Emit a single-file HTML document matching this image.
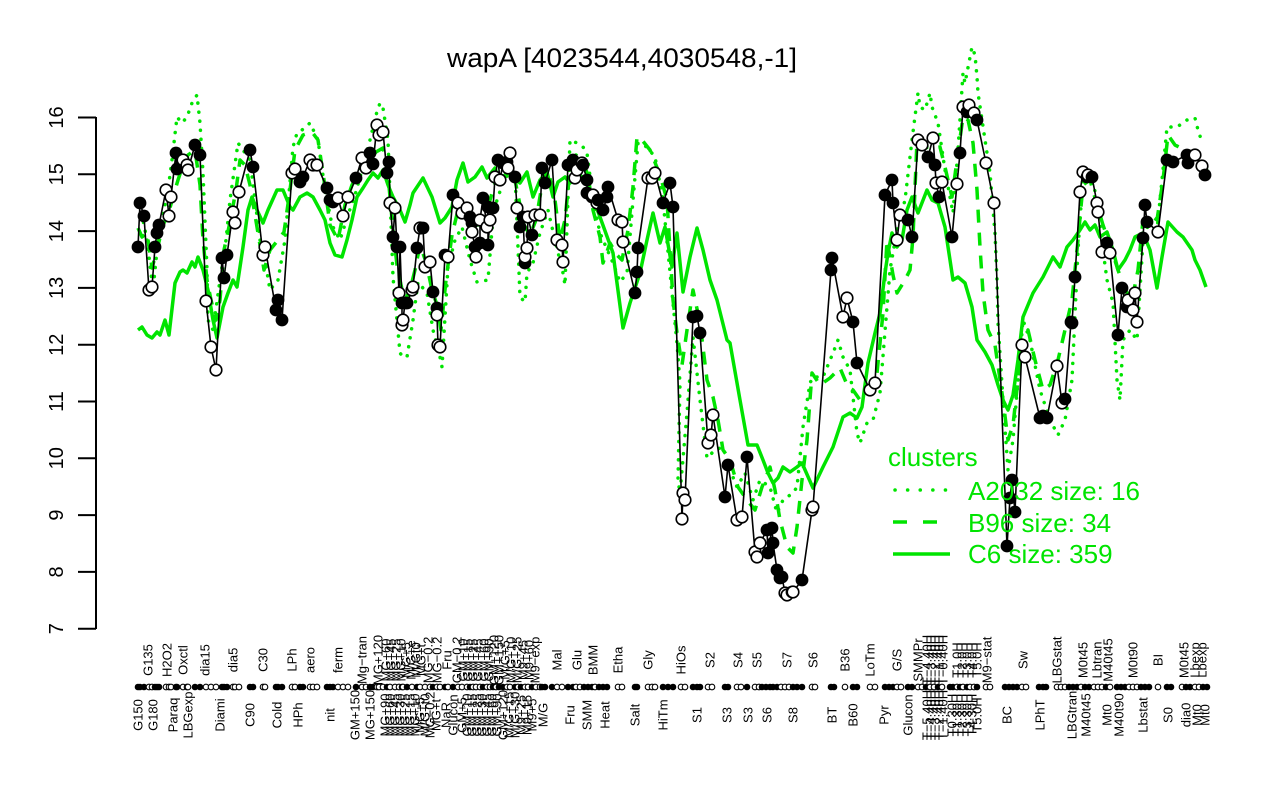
<!DOCTYPE html>
<html><head><meta charset="utf-8"><style>
html,body{margin:0;padding:0;background:#fff;}
svg{display:block;font-family:"Liberation Sans",Arial,sans-serif;}
.xl text{font-size:13px;}
</style></head><body>
<svg width="1280" height="800" viewBox="0 0 1280 800" xmlns="http://www.w3.org/2000/svg">
<defs>
<circle id="F" r="6.4" fill="#000"/>
<circle id="O" r="5.8" fill="#fff" stroke="#000" stroke-width="1.6"/>
<circle id="f" r="3.3" fill="#000"/>
<circle id="o" r="2.8" fill="#fff" stroke="#000" stroke-width="1.1"/>
</defs>
<rect width="1280" height="800" fill="#fff"/>
<text x="447" y="67" font-size="27" textLength="350" lengthAdjust="spacingAndGlyphs">wapA [4023544,4030548,-1]</text>
<line x1="96" y1="117" x2="96" y2="629" stroke="#000" stroke-width="2"/>
<g stroke="#000" stroke-width="2">
<line x1="78" y1="117.5" x2="96" y2="117.5"/><line x1="78" y1="174.3" x2="96" y2="174.3"/><line x1="78" y1="231.1" x2="96" y2="231.1"/><line x1="78" y1="287.9" x2="96" y2="287.9"/><line x1="78" y1="344.7" x2="96" y2="344.7"/><line x1="78" y1="401.5" x2="96" y2="401.5"/><line x1="78" y1="458.3" x2="96" y2="458.3"/><line x1="78" y1="515.1" x2="96" y2="515.1"/><line x1="78" y1="571.9" x2="96" y2="571.9"/><line x1="78" y1="628.7" x2="96" y2="628.7"/>
</g>
<g font-size="20" text-anchor="middle">
<text transform="translate(63,117.5) rotate(-90)">16</text>
<text transform="translate(63,174.3) rotate(-90)">15</text>
<text transform="translate(63,231.1) rotate(-90)">14</text>
<text transform="translate(63,287.9) rotate(-90)">13</text>
<text transform="translate(63,344.7) rotate(-90)">12</text>
<text transform="translate(63,401.5) rotate(-90)">11</text>
<text transform="translate(63,458.3) rotate(-90)">10</text>
<text transform="translate(63,515.1) rotate(-90)">9</text>
<text transform="translate(63,571.9) rotate(-90)">8</text>
<text transform="translate(63,628.7) rotate(-90)">7</text>
</g>

<g fill="none" stroke="#00e400" stroke-width="3.5" stroke-linejoin="round">
<polyline points="138,330 142,327 147,335 152,338 157,332 160,335 165,320 169,335 175,283 180,272 183,270 187,273 192,262 195,267 198,257 203,270 208,290 213,320 217,338 223,307 228,293 233,280 237,287 243,247 248,210 252,197 257,210 263,223 268,210 277,190 283,190 290,207 293,210 300,197 307,193 313,197 320,210 325,220 330,243 335,255 342,257 347,240 352,220 357,197 363,188 368,180 373,173 378,178 383,170 388,185 393,197 400,210 405,222 410,205 413,193 423,178 432,197 440,223 445,218 452,207 457,180 463,163 468,182 475,177 482,167 487,178 495,168 500,183 507,172 513,177 520,183 527,172 533,197 540,180 547,172 553,197 558,182 565,177 570,183 580,175 587,182 600,217 613,253 623,328 630,303 640,273 647,240 653,213 660,243 665,227 672,267 677,233 683,292 690,257 697,228 703,250 710,280 717,300 727,340 730,343 740,400 748,445 757,445 763,460 768,473 773,483 778,478 783,467 790,472 797,467 802,463 813,488 823,467 833,447 843,417 850,413 857,418 862,407 868,363 875,333 880,313 885,273 888,253 892,233 897,247 902,240 907,210 912,197 918,213 927,190 932,200 938,203 945,227 950,260 953,280 958,277 965,283 972,307 977,340 985,352 992,365 998,385 1003,400 1008,410 1013,395 1018,360 1023,317 1033,293 1043,277 1053,257 1060,267 1067,247 1073,240 1080,230 1085,222 1090,230 1095,225 1100,237 1107,232 1113,250 1118,270 1125,260 1130,250 1135,237 1143,233 1150,250 1157,288 1162,257 1168,222 1177,232 1183,237 1192,250 1195,260 1200,270 1206,287"/>
<polyline stroke-dasharray="13 10" points="138,228 142,237 147,233 152,268 157,250 163,225 168,215 173,197 178,180 183,165 188,155 195,150 200,185 203,240 207,280 211,300 216,320 220,300 224,250 230,222 236,190 240,160 245,165 250,185 255,215 260,245 264,270 270,250 278,240 284,232 290,190 295,150 303,135 312,132 318,140 324,180 330,225 338,240 345,205 352,185 360,170 368,162 376,152 383,148 388,175 393,230 397,265 401,285 405,300 410,290 415,270 420,245 426,262 432,290 437,305 441,330 446,280 452,235 458,210 465,205 472,215 478,225 484,210 490,200 496,180 502,165 508,160 514,175 518,195 524,225 530,235 536,220 542,185 548,170 555,200 560,240 565,220 570,170 576,155 582,160 588,175 593,210 600,237 603,263 610,243 617,255 622,260 628,230 633,187 637,137 642,140 650,150 660,175 667,200 673,300 677,333 682,365 687,330 693,290 700,323 707,380 713,397 718,420 723,450 730,460 738,487 747,500 755,510 762,487 770,467 775,490 780,520 787,547 793,553 797,527 802,480 807,440 812,373 820,385 830,378 840,368 848,387 853,390 860,400 867,390 877,373 883,313 887,240 893,275 897,293 905,280 910,270 913,237 917,140 925,147 932,148 940,147 945,167 948,180 952,197 957,160 963,117 968,120 973,143 977,190 980,247 983,293 988,330 995,345 1003,400 1008,440 1013,425 1018,380 1023,340 1028,330 1035,360 1043,390 1050,385 1058,360 1065,330 1072,300 1078,240 1083,185 1090,180 1097,205 1103,225 1110,245 1118,270 1125,290 1132,300 1138,270 1143,220 1150,215 1157,220 1163,180 1168,135 1175,145 1185,150 1193,155 1200,160 1207,170"/>
<polyline stroke-dasharray="0.1 9" stroke-linecap="round" points="138,205 142,215 147,240 150,265 153,290 157,250 163,215 168,190 172,160 177,117 182,123 187,117 192,103 197,95 200,123 203,173 207,270 208,320 213,330 220,280 226,240 230,200 238,143 243,150 250,160 255,200 260,240 265,260 270,290 278,280 285,240 293,147 297,133 302,130 310,123 318,140 325,190 332,225 340,240 348,215 355,195 362,170 370,140 376,115 380,103 383,108 388,140 393,277 400,353 403,357 407,357 413,320 418,282 427,293 433,330 440,357 442,367 448,267 455,240 462,227 470,260 477,282 488,280 493,217 497,200 505,177 515,173 520,297 525,302 527,273 533,263 540,233 548,210 555,240 563,273 565,285 570,140 577,143 583,147 587,153 593,200 600,233 613,263 620,282 627,273 633,200 638,143 647,147 655,157 663,200 673,303 677,343 680,383 678,480 680,493 687,413 693,337 700,400 707,458 715,450 723,447 730,470 737,487 745,473 753,500 760,480 770,487 777,513 783,500 793,493 797,487 803,427 810,383 813,377 823,377 833,353 838,340 843,357 850,370 857,433 860,443 867,423 873,420 880,393 890,270 897,230 905,200 912,140 918,93 920,107 925,110 930,93 932,107 938,123 945,170 953,213 958,150 963,73 965,83 972,47 975,55 977,77 978,93 985,140 990,173 995,233 997,280 998,323 1003,400 1008,470 1013,440 1018,380 1023,320 1030,340 1040,390 1050,420 1058,435 1065,420 1072,380 1078,250 1083,175 1090,170 1097,200 1103,250 1107,280 1113,303 1117,380 1120,400 1123,340 1130,330 1137,340 1143,240 1150,220 1157,230 1163,170 1167,127 1177,127 1187,120 1195,118 1198,130 1202,142"/>
</g>

<polyline fill="none" stroke="#000" stroke-width="1.6" stroke-linejoin="round" points="138,247 140,203 144,216 149,290 152,287 155,247 157,233 159,225 166,190 169,216 171,197 176,153 177,169 183,160 187,165 188,170 195,145 200,155 206,301 211,347 216,370 222,258 224,278 227,255 233,212 235,223 239,192 250,150 253,167 263,255 265,247 276,310 278,300 282,320 292,173 295,169 300,182 303,177 310,160 313,165 317,165 327,188 330,200 333,202 338,198 343,216 348,197 356,178 362,158 366,168 370,153 373,164 377,125 379,135 383,132 387,173 389,162 390,203 393,237 395,208 397,247 399,293 400,247 402,303 402,325 403,320 405,303 407,303 412,290 413,287 417,248 420,228 423,228 425,267 430,262 433,292 437,308 437,315 438,345 440,347 445,255 448,257 453,195 458,203 462,213 467,208 470,217 472,223 472,232 475,247 476,257 480,243 480,220 483,198 487,227 488,207 488,245 490,220 493,208 495,177 498,160 500,180 503,163 507,162 508,168 510,153 515,177 517,208 520,227 523,217 525,263 525,257 527,248 528,217 532,235 535,215 540,215 542,168 545,183 552,160 557,240 562,245 563,262 568,165 573,160 575,178 577,170 582,163 583,165 587,180 587,193 592,197 593,195 597,203 598,200 603,210 607,197 608,187 618,220 622,222 623,242 635,293 637,272 638,248 648,178 652,178 655,173 663,203 670,183 673,207 682,519 683,493 685,500 693,317 697,316 700,333 708,443 711,435 713,415 725,497 728,465 737,520 742,517 747,457 755,552 757,557 760,543 767,530 768,553 772,528 773,543 777,570 780,578 782,577 785,593 787,595 792,592 793,592 802,580 812,510 813,507 831,270 832,258 843,317 847,298 853,322 857,363 870,390 875,383 885,195 892,180 893,203 897,240 900,215 908,220 912,237 918,140 922,145 928,157 933,138 935,165 936,183 939,197 942,182 952,237 957,184 960,153 963,107 967,112 969,105 974,113 977,120 986,163 994,203 1007,546 1010,498 1012,480 1015,512 1022,345 1025,357 1040,418 1043,416 1047,418 1057,366 1062,403 1065,399 1071,322 1072,323 1075,277 1080,192 1083,172 1087,177 1088,175 1092,177 1097,203 1098,212 1102,252 1107,243 1110,253 1118,335 1122,288 1127,307 1128,300 1133,310 1135,293 1137,322 1143,238 1145,205 1147,222 1158,232 1167,160 1173,162 1187,155 1188,163 1195,155 1202,166 1205,175"/>

<g>
<use href="#F" x="138" y="247"/><use href="#F" x="140" y="203"/><use href="#F" x="144" y="216"/><use href="#O" x="149" y="290"/><use href="#O" x="152" y="287"/><use href="#F" x="155" y="247"/><use href="#F" x="157" y="233"/><use href="#F" x="159" y="225"/><use href="#O" x="166" y="190"/><use href="#O" x="169" y="216"/><use href="#O" x="171" y="197"/><use href="#F" x="176" y="153"/><use href="#F" x="177" y="169"/><use href="#O" x="183" y="160"/><use href="#O" x="187" y="165"/><use href="#O" x="188" y="170"/><use href="#F" x="195" y="145"/><use href="#F" x="200" y="155"/><use href="#O" x="206" y="301"/><use href="#O" x="211" y="347"/><use href="#O" x="216" y="370"/><use href="#F" x="222" y="258"/><use href="#F" x="224" y="278"/><use href="#F" x="227" y="255"/><use href="#O" x="233" y="212"/><use href="#O" x="235" y="223"/><use href="#O" x="239" y="192"/><use href="#F" x="250" y="150"/><use href="#F" x="253" y="167"/><use href="#O" x="263" y="255"/><use href="#O" x="265" y="247"/><use href="#F" x="276" y="310"/><use href="#F" x="278" y="300"/><use href="#F" x="282" y="320"/><use href="#O" x="292" y="173"/><use href="#O" x="295" y="169"/><use href="#F" x="300" y="182"/><use href="#F" x="303" y="177"/><use href="#O" x="310" y="160"/><use href="#O" x="313" y="165"/><use href="#O" x="317" y="165"/><use href="#F" x="327" y="188"/><use href="#F" x="330" y="200"/><use href="#F" x="333" y="202"/><use href="#O" x="338" y="198"/><use href="#O" x="343" y="216"/><use href="#O" x="348" y="197"/><use href="#F" x="356" y="178"/><use href="#O" x="362" y="158"/><use href="#O" x="366" y="168"/><use href="#F" x="370" y="153"/><use href="#F" x="373" y="164"/><use href="#O" x="377" y="125"/><use href="#O" x="379" y="135"/><use href="#O" x="383" y="132"/><use href="#F" x="387" y="173"/><use href="#F" x="389" y="162"/><use href="#O" x="390" y="203"/><use href="#F" x="393" y="237"/><use href="#O" x="395" y="208"/><use href="#F" x="397" y="247"/><use href="#O" x="399" y="293"/><use href="#F" x="400" y="247"/><use href="#F" x="402" y="303"/><use href="#O" x="402" y="325"/><use href="#O" x="403" y="320"/><use href="#F" x="405" y="303"/><use href="#F" x="407" y="303"/><use href="#O" x="412" y="290"/><use href="#O" x="413" y="287"/><use href="#F" x="417" y="248"/><use href="#O" x="420" y="228"/><use href="#F" x="423" y="228"/><use href="#O" x="425" y="267"/><use href="#O" x="430" y="262"/><use href="#F" x="433" y="292"/><use href="#F" x="437" y="308"/><use href="#O" x="437" y="315"/><use href="#O" x="438" y="345"/><use href="#O" x="440" y="347"/><use href="#F" x="445" y="255"/><use href="#O" x="448" y="257"/><use href="#F" x="453" y="195"/><use href="#O" x="458" y="203"/><use href="#O" x="462" y="213"/><use href="#O" x="467" y="208"/><use href="#F" x="470" y="217"/><use href="#F" x="472" y="223"/><use href="#O" x="472" y="232"/><use href="#F" x="475" y="247"/><use href="#O" x="476" y="257"/><use href="#F" x="480" y="243"/><use href="#O" x="480" y="220"/><use href="#F" x="483" y="198"/><use href="#O" x="487" y="227"/><use href="#F" x="488" y="207"/><use href="#F" x="488" y="245"/><use href="#O" x="490" y="220"/><use href="#F" x="493" y="208"/><use href="#O" x="495" y="177"/><use href="#F" x="498" y="160"/><use href="#O" x="500" y="180"/><use href="#F" x="503" y="163"/><use href="#F" x="507" y="162"/><use href="#O" x="508" y="168"/><use href="#O" x="510" y="153"/><use href="#F" x="515" y="177"/><use href="#O" x="517" y="208"/><use href="#F" x="520" y="227"/><use href="#F" x="523" y="217"/><use href="#F" x="525" y="263"/><use href="#O" x="525" y="257"/><use href="#O" x="527" y="248"/><use href="#O" x="528" y="217"/><use href="#F" x="532" y="235"/><use href="#O" x="535" y="215"/><use href="#O" x="540" y="215"/><use href="#F" x="542" y="168"/><use href="#F" x="545" y="183"/><use href="#F" x="552" y="160"/><use href="#O" x="557" y="240"/><use href="#O" x="562" y="245"/><use href="#O" x="563" y="262"/><use href="#F" x="568" y="165"/><use href="#F" x="573" y="160"/><use href="#O" x="575" y="178"/><use href="#O" x="577" y="170"/><use href="#O" x="582" y="163"/><use href="#F" x="583" y="165"/><use href="#F" x="587" y="180"/><use href="#F" x="587" y="193"/><use href="#F" x="592" y="197"/><use href="#O" x="593" y="195"/><use href="#O" x="597" y="203"/><use href="#F" x="598" y="200"/><use href="#F" x="603" y="210"/><use href="#F" x="607" y="197"/><use href="#F" x="608" y="187"/><use href="#O" x="618" y="220"/><use href="#O" x="622" y="222"/><use href="#O" x="623" y="242"/><use href="#F" x="635" y="293"/><use href="#F" x="637" y="272"/><use href="#F" x="638" y="248"/><use href="#O" x="648" y="178"/><use href="#O" x="652" y="178"/><use href="#O" x="655" y="173"/><use href="#F" x="663" y="203"/><use href="#F" x="670" y="183"/><use href="#F" x="673" y="207"/><use href="#O" x="682" y="519"/><use href="#O" x="683" y="493"/><use href="#O" x="685" y="500"/><use href="#F" x="693" y="317"/><use href="#F" x="697" y="316"/><use href="#F" x="700" y="333"/><use href="#O" x="708" y="443"/><use href="#O" x="711" y="435"/><use href="#O" x="713" y="415"/><use href="#F" x="725" y="497"/><use href="#F" x="728" y="465"/><use href="#O" x="737" y="520"/><use href="#O" x="742" y="517"/><use href="#F" x="747" y="457"/><use href="#O" x="755" y="552"/><use href="#O" x="757" y="557"/><use href="#O" x="760" y="543"/><use href="#F" x="767" y="530"/><use href="#F" x="768" y="553"/><use href="#F" x="772" y="528"/><use href="#F" x="773" y="543"/><use href="#F" x="777" y="570"/><use href="#F" x="780" y="578"/><use href="#F" x="782" y="577"/><use href="#O" x="785" y="593"/><use href="#O" x="787" y="595"/><use href="#F" x="792" y="592"/><use href="#O" x="793" y="592"/><use href="#F" x="802" y="580"/><use href="#O" x="812" y="510"/><use href="#O" x="813" y="507"/><use href="#F" x="831" y="270"/><use href="#F" x="832" y="258"/><use href="#O" x="843" y="317"/><use href="#O" x="847" y="298"/><use href="#F" x="853" y="322"/><use href="#F" x="857" y="363"/><use href="#O" x="870" y="390"/><use href="#O" x="875" y="383"/><use href="#F" x="885" y="195"/><use href="#F" x="892" y="180"/><use href="#F" x="893" y="203"/><use href="#O" x="897" y="240"/><use href="#O" x="900" y="215"/><use href="#F" x="908" y="220"/><use href="#F" x="912" y="237"/><use href="#O" x="918" y="140"/><use href="#O" x="922" y="145"/><use href="#F" x="928" y="157"/><use href="#O" x="933" y="138"/><use href="#F" x="935" y="165"/><use href="#O" x="936" y="183"/><use href="#F" x="939" y="197"/><use href="#O" x="942" y="182"/><use href="#F" x="952" y="237"/><use href="#O" x="957" y="184"/><use href="#F" x="960" y="153"/><use href="#O" x="963" y="107"/><use href="#F" x="967" y="112"/><use href="#O" x="969" y="105"/><use href="#O" x="974" y="113"/><use href="#F" x="977" y="120"/><use href="#O" x="986" y="163"/><use href="#O" x="994" y="203"/><use href="#F" x="1007" y="546"/><use href="#F" x="1010" y="498"/><use href="#F" x="1012" y="480"/><use href="#F" x="1015" y="512"/><use href="#O" x="1022" y="345"/><use href="#O" x="1025" y="357"/><use href="#F" x="1040" y="418"/><use href="#F" x="1043" y="416"/><use href="#F" x="1047" y="418"/><use href="#O" x="1057" y="366"/><use href="#O" x="1062" y="403"/><use href="#F" x="1065" y="399"/><use href="#F" x="1071" y="322"/><use href="#F" x="1072" y="323"/><use href="#F" x="1075" y="277"/><use href="#O" x="1080" y="192"/><use href="#O" x="1083" y="172"/><use href="#F" x="1087" y="177"/><use href="#O" x="1088" y="175"/><use href="#F" x="1092" y="177"/><use href="#O" x="1097" y="203"/><use href="#O" x="1098" y="212"/><use href="#O" x="1102" y="252"/><use href="#F" x="1107" y="243"/><use href="#O" x="1110" y="253"/><use href="#F" x="1118" y="335"/><use href="#F" x="1122" y="288"/><use href="#F" x="1127" y="307"/><use href="#O" x="1128" y="300"/><use href="#O" x="1133" y="310"/><use href="#O" x="1135" y="293"/><use href="#O" x="1137" y="322"/><use href="#F" x="1143" y="238"/><use href="#F" x="1145" y="205"/><use href="#F" x="1147" y="222"/><use href="#O" x="1158" y="232"/><use href="#F" x="1167" y="160"/><use href="#F" x="1173" y="162"/><use href="#F" x="1187" y="155"/><use href="#F" x="1188" y="163"/><use href="#O" x="1195" y="155"/><use href="#O" x="1202" y="166"/><use href="#F" x="1205" y="175"/>
</g>

<g transform="translate(0,687)">
<use href="#f" x="138"/><use href="#f" x="140"/><use href="#f" x="144"/><use href="#o" x="149"/><use href="#o" x="152"/><use href="#f" x="155"/><use href="#f" x="157"/><use href="#f" x="159"/><use href="#o" x="166"/><use href="#o" x="169"/><use href="#o" x="171"/><use href="#f" x="176"/><use href="#f" x="177"/><use href="#o" x="183"/><use href="#o" x="187"/><use href="#o" x="188"/><use href="#f" x="195"/><use href="#f" x="200"/><use href="#o" x="206"/><use href="#o" x="211"/><use href="#o" x="216"/><use href="#f" x="222"/><use href="#f" x="224"/><use href="#f" x="227"/><use href="#o" x="233"/><use href="#o" x="235"/><use href="#o" x="239"/><use href="#f" x="250"/><use href="#f" x="253"/><use href="#o" x="263"/><use href="#o" x="265"/><use href="#f" x="276"/><use href="#f" x="278"/><use href="#f" x="282"/><use href="#o" x="292"/><use href="#o" x="295"/><use href="#f" x="300"/><use href="#f" x="303"/><use href="#o" x="310"/><use href="#o" x="313"/><use href="#o" x="317"/><use href="#f" x="327"/><use href="#f" x="330"/><use href="#f" x="333"/><use href="#o" x="338"/><use href="#o" x="343"/><use href="#o" x="348"/><use href="#f" x="356"/><use href="#o" x="362"/><use href="#o" x="366"/><use href="#f" x="370"/><use href="#f" x="373"/><use href="#o" x="377"/><use href="#o" x="379"/><use href="#o" x="383"/><use href="#f" x="387"/><use href="#o" x="390"/><use href="#o" x="395"/><use href="#o" x="399"/><use href="#f" x="402"/><use href="#o" x="403"/><use href="#f" x="407"/><use href="#o" x="412"/><use href="#f" x="417"/><use href="#o" x="420"/><use href="#o" x="425"/><use href="#o" x="430"/><use href="#f" x="433"/><use href="#o" x="437"/><use href="#o" x="440"/><use href="#f" x="445"/><use href="#o" x="448"/><use href="#f" x="453"/><use href="#o" x="458"/><use href="#o" x="462"/><use href="#o" x="467"/><use href="#f" x="470"/><use href="#o" x="473"/><use href="#o" x="476"/><use href="#o" x="480"/><use href="#f" x="483"/><use href="#o" x="487"/><use href="#o" x="490"/><use href="#f" x="493"/><use href="#o" x="496"/><use href="#f" x="499"/><use href="#f" x="503"/><use href="#o" x="507"/><use href="#o" x="510"/><use href="#f" x="515"/><use href="#o" x="518"/><use href="#f" x="521"/><use href="#o" x="525"/><use href="#o" x="528"/><use href="#f" x="532"/><use href="#o" x="536"/><use href="#o" x="540"/><use href="#f" x="542"/><use href="#f" x="545"/><use href="#f" x="552"/><use href="#o" x="557"/><use href="#o" x="562"/><use href="#f" x="568"/><use href="#f" x="573"/><use href="#o" x="576"/><use href="#o" x="580"/><use href="#f" x="584"/><use href="#f" x="588"/><use href="#f" x="592"/><use href="#o" x="595"/><use href="#f" x="599"/><use href="#f" x="603"/><use href="#f" x="607"/><use href="#o" x="618"/><use href="#o" x="622"/><use href="#f" x="635"/><use href="#f" x="637"/><use href="#o" x="648"/><use href="#o" x="652"/><use href="#o" x="655"/><use href="#f" x="663"/><use href="#f" x="668"/><use href="#f" x="673"/><use href="#o" x="681"/><use href="#o" x="685"/><use href="#f" x="693"/><use href="#f" x="697"/><use href="#f" x="700"/><use href="#o" x="708"/><use href="#o" x="712"/><use href="#f" x="725"/><use href="#f" x="728"/><use href="#o" x="737"/><use href="#o" x="741"/><use href="#f" x="747"/><use href="#o" x="755"/><use href="#o" x="759"/><use href="#f" x="762"/><use href="#f" x="766"/><use href="#f" x="770"/><use href="#f" x="773"/><use href="#f" x="777"/><use href="#o" x="781"/><use href="#o" x="785"/><use href="#o" x="789"/><use href="#f" x="793"/><use href="#f" x="797"/><use href="#f" x="802"/><use href="#o" x="812"/><use href="#o" x="815"/><use href="#f" x="831"/><use href="#f" x="834"/><use href="#o" x="845"/><use href="#f" x="853"/><use href="#f" x="857"/><use href="#o" x="870"/><use href="#o" x="875"/><use href="#f" x="885"/><use href="#f" x="889"/><use href="#f" x="893"/><use href="#o" x="897"/><use href="#o" x="901"/><use href="#f" x="908"/><use href="#f" x="912"/><use href="#o" x="918"/><use href="#o" x="922"/><use href="#f" x="926"/><use href="#o" x="930"/><use href="#o" x="934"/><use href="#f" x="938"/><use href="#o" x="942"/><use href="#f" x="950"/><use href="#f" x="953"/><use href="#o" x="957"/><use href="#f" x="960"/><use href="#o" x="963"/><use href="#f" x="967"/><use href="#o" x="970"/><use href="#o" x="974"/><use href="#f" x="977"/><use href="#o" x="986"/><use href="#o" x="990"/><use href="#f" x="1005"/><use href="#f" x="1009"/><use href="#f" x="1013"/><use href="#f" x="1017"/><use href="#o" x="1022"/><use href="#o" x="1026"/><use href="#f" x="1039"/><use href="#f" x="1043"/><use href="#f" x="1046"/><use href="#o" x="1057"/><use href="#o" x="1061"/><use href="#o" x="1065"/><use href="#f" x="1069"/><use href="#f" x="1073"/><use href="#f" x="1077"/><use href="#o" x="1081"/><use href="#f" x="1085"/><use href="#f" x="1089"/><use href="#o" x="1094"/><use href="#o" x="1098"/><use href="#o" x="1102"/><use href="#f" x="1106"/><use href="#o" x="1110"/><use href="#f" x="1117"/><use href="#f" x="1121"/><use href="#f" x="1125"/><use href="#o" x="1129"/><use href="#o" x="1133"/><use href="#o" x="1137"/><use href="#f" x="1141"/><use href="#f" x="1145"/><use href="#f" x="1149"/><use href="#o" x="1158"/><use href="#f" x="1167"/><use href="#f" x="1171"/><use href="#o" x="1182"/><use href="#f" x="1186"/><use href="#f" x="1190"/><use href="#o" x="1195"/><use href="#o" x="1199"/><use href="#f" x="1203"/><use href="#f" x="1207"/>
</g>

<g class="xl" text-anchor="middle" dominant-baseline="central">
<g transform="translate(0,660)">
<text transform="translate(148,0) rotate(-90)">G135</text>
<text transform="translate(167,0) rotate(-90)">H2O2</text>
<text transform="translate(183,0) rotate(-90)">Oxctl</text>
<text transform="translate(205,0) rotate(-90)">dia15</text>
<text transform="translate(233,0) rotate(-90)">dia5</text>
<text transform="translate(263,0) rotate(-90)">C30</text>
<text transform="translate(292,0) rotate(-90)">LPh</text>
<text transform="translate(310,0) rotate(-90)">aero</text>
<text transform="translate(338,0) rotate(-90)">ferm</text>
<text transform="translate(362,0) rotate(-90)">Mg−tran</text>
<text transform="translate(378,0) rotate(-90)">MG+120</text>
<text transform="translate(386,0) rotate(-90)">MG+60</text>
<text transform="translate(391,0) rotate(-90)">MG+45</text>
<text transform="translate(396,0) rotate(-90)">MG+25</text>
<text transform="translate(401,0) rotate(-90)">MG+10</text>
<text transform="translate(406,0) rotate(-90)">MG+5</text>
<text transform="translate(411,0) rotate(-90)">M/G+e</text>
<text transform="translate(416,0) rotate(-90)">M/Gt0</text>
<text transform="translate(421,0) rotate(-90)">MG+t</text>
<text transform="translate(428,0) rotate(-90)">MG−0.2</text>
<text transform="translate(437,0) rotate(-90)">MG−0.2</text>
<text transform="translate(447,0) rotate(-90)">Fru</text>
<text transform="translate(457,0) rotate(-90)">GM−0.2</text>
<text transform="translate(463,0) rotate(-90)">GM+10</text>
<text transform="translate(468,0) rotate(-90)">GM+15</text>
<text transform="translate(473,0) rotate(-90)">GM+25</text>
<text transform="translate(478,0) rotate(-90)">GM+45</text>
<text transform="translate(484,0) rotate(-90)">GM+60</text>
<text transform="translate(489,0) rotate(-90)">GM+90</text>
<text transform="translate(494,0) rotate(-90)">GM+120</text>
<text transform="translate(499,0) rotate(-90)">GM+150</text>
<text transform="translate(505,0) rotate(-90)">M/G+5</text>
<text transform="translate(511,0) rotate(-90)">M/G+10</text>
<text transform="translate(517,0) rotate(-90)">M/G+25</text>
<text transform="translate(523,0) rotate(-90)">M9+45</text>
<text transform="translate(529,0) rotate(-90)">M9+60</text>
<text transform="translate(535,0) rotate(-90)">M9−exp</text>
<text transform="translate(557,0) rotate(-90)">Mal</text>
<text transform="translate(577,0) rotate(-90)">Glu</text>
<text transform="translate(593,0) rotate(-90)">BMM</text>
<text transform="translate(618,0) rotate(-90)">Etha</text>
<text transform="translate(648,0) rotate(-90)">Gly</text>
<text transform="translate(681,0) rotate(-90)">HiOs</text>
<text transform="translate(710,0) rotate(-90)">S2</text>
<text transform="translate(738,0) rotate(-90)">S4</text>
<text transform="translate(757,0) rotate(-90)">S5</text>
<text transform="translate(787,0) rotate(-90)">S7</text>
<text transform="translate(813,0) rotate(-90)">S6</text>
<text transform="translate(845,0) rotate(-90)">B36</text>
<text transform="translate(870,0) rotate(-90)">LoTm</text>
<text transform="translate(897,0) rotate(-90)">G/S</text>
<text transform="translate(918,0) rotate(-90)">SMMPr</text>
<text transform="translate(927,0) rotate(-90)">T−4.40H</text>
<text transform="translate(931,0) rotate(-90)">T−3.40H</text>
<text transform="translate(935,0) rotate(-90)">T−2.40H</text>
<text transform="translate(939,0) rotate(-90)">T−1.40H</text>
<text transform="translate(943,0) rotate(-90)">T−0.40H</text>
<text transform="translate(957,0) rotate(-90)">T1.0H</text>
<text transform="translate(962,0) rotate(-90)">T2.0H</text>
<text transform="translate(967,0) rotate(-90)">T3.0H</text>
<text transform="translate(972,0) rotate(-90)">T4.0H</text>
<text transform="translate(977,0) rotate(-90)">T5.0H</text>
<text transform="translate(987,0) rotate(-90)">M9−stat</text>
<text transform="translate(1023,0) rotate(-90)">Sw</text>
<text transform="translate(1057,0) rotate(-90)">LBGstat</text>
<text transform="translate(1083,0) rotate(-90)">M0t45</text>
<text transform="translate(1097,0) rotate(-90)">Lbtran</text>
<text transform="translate(1108,0) rotate(-90)">M40t45</text>
<text transform="translate(1133,0) rotate(-90)">M0t90</text>
<text transform="translate(1158,0) rotate(-90)">BI</text>
<text transform="translate(1184,0) rotate(-90)">M0t45</text>
<text transform="translate(1195,0) rotate(-90)">Lbexp</text>
<text transform="translate(1202,0) rotate(-90)">Lbexp</text>
</g>
<g transform="translate(0,715)">
<text transform="translate(138,0) rotate(-90)">G150</text>
<text transform="translate(153,0) rotate(-90)">G180</text>
<text transform="translate(173,0) rotate(-90)">Paraq</text>
<text transform="translate(188,0) rotate(-90)">LBGexp</text>
<text transform="translate(220,0) rotate(-90)">Diami</text>
<text transform="translate(250,0) rotate(-90)">C90</text>
<text transform="translate(277,0) rotate(-90)">Cold</text>
<text transform="translate(298,0) rotate(-90)">HPh</text>
<text transform="translate(330,0) rotate(-90)">nit</text>
<text transform="translate(355,0) rotate(-90)">GM+150</text>
<text transform="translate(370,0) rotate(-90)">MG+150</text>
<text transform="translate(385,0) rotate(-90)">MG+90</text>
<text transform="translate(390,0) rotate(-90)">MG+60</text>
<text transform="translate(395,0) rotate(-90)">MG+45</text>
<text transform="translate(400,0) rotate(-90)">MG+30</text>
<text transform="translate(405,0) rotate(-90)">MG+25</text>
<text transform="translate(410,0) rotate(-90)">MG+15</text>
<text transform="translate(415,0) rotate(-90)">MG+10</text>
<text transform="translate(420,0) rotate(-90)">MG+5</text>
<text transform="translate(425,0) rotate(-90)">M/G+t0</text>
<text transform="translate(430,0) rotate(-90)">MG−0.2</text>
<text transform="translate(436,0) rotate(-90)">MG+t</text>
<text transform="translate(446,0) rotate(-90)">NaR</text>
<text transform="translate(453,0) rotate(-90)">Glucon</text>
<text transform="translate(462,0) rotate(-90)">GM+5</text>
<text transform="translate(467,0) rotate(-90)">GM+10</text>
<text transform="translate(472,0) rotate(-90)">GM+15</text>
<text transform="translate(477,0) rotate(-90)">GM+25</text>
<text transform="translate(482,0) rotate(-90)">GM+30</text>
<text transform="translate(487,0) rotate(-90)">GM+45</text>
<text transform="translate(492,0) rotate(-90)">GM+60</text>
<text transform="translate(497,0) rotate(-90)">GM+90</text>
<text transform="translate(503,0) rotate(-90)">GM+120</text>
<text transform="translate(509,0) rotate(-90)">M/G+15</text>
<text transform="translate(515,0) rotate(-90)">M/G+30</text>
<text transform="translate(521,0) rotate(-90)">M9+25</text>
<text transform="translate(527,0) rotate(-90)">M9+15</text>
<text transform="translate(532,0) rotate(-90)">M9+5</text>
<text transform="translate(543,0) rotate(-90)">M/G</text>
<text transform="translate(570,0) rotate(-90)">Fru</text>
<text transform="translate(587,0) rotate(-90)">SMM</text>
<text transform="translate(605,0) rotate(-90)">Heat</text>
<text transform="translate(635,0) rotate(-90)">Salt</text>
<text transform="translate(663,0) rotate(-90)">HiTm</text>
<text transform="translate(697,0) rotate(-90)">S1</text>
<text transform="translate(727,0) rotate(-90)">S3</text>
<text transform="translate(748,0) rotate(-90)">S3</text>
<text transform="translate(767,0) rotate(-90)">S6</text>
<text transform="translate(793,0) rotate(-90)">S8</text>
<text transform="translate(832,0) rotate(-90)">BT</text>
<text transform="translate(853,0) rotate(-90)">B60</text>
<text transform="translate(884,0) rotate(-90)">Pyr</text>
<text transform="translate(908,0) rotate(-90)">Glucon</text>
<text transform="translate(927,0) rotate(-90)">T−5.40H</text>
<text transform="translate(931,0) rotate(-90)">T−4.40H</text>
<text transform="translate(935,0) rotate(-90)">T−3.40H</text>
<text transform="translate(939,0) rotate(-90)">T−2.40H</text>
<text transform="translate(943,0) rotate(-90)">T−1.40H</text>
<text transform="translate(952,0) rotate(-90)">T0.30H</text>
<text transform="translate(957,0) rotate(-90)">T1.30H</text>
<text transform="translate(962,0) rotate(-90)">T2.30H</text>
<text transform="translate(967,0) rotate(-90)">T3.30H</text>
<text transform="translate(972,0) rotate(-90)">T4.30H</text>
<text transform="translate(977,0) rotate(-90)">T5.0H</text>
<text transform="translate(1007,0) rotate(-90)">BC</text>
<text transform="translate(1040,0) rotate(-90)">LPhT</text>
<text transform="translate(1072,0) rotate(-90)">LBGtran</text>
<text transform="translate(1086,0) rotate(-90)">M40t45</text>
<text transform="translate(1107,0) rotate(-90)">Mt0</text>
<text transform="translate(1119,0) rotate(-90)">M40t90</text>
<text transform="translate(1143,0) rotate(-90)">Lbstat</text>
<text transform="translate(1168,0) rotate(-90)">S0</text>
<text transform="translate(1186,0) rotate(-90)">dia0</text>
<text transform="translate(1197,0) rotate(-90)">Mt0</text>
<text transform="translate(1205,0) rotate(-90)">Mt0</text>
</g>
</g>

<g fill="#00e400" font-size="26">
<text x="888" y="466">clusters</text>
<text x="968" y="500">A2032 size: 16</text>
<text x="968" y="532">B96 size: 34</text>
<text x="968" y="563">C6 size: 359</text>
</g>
<g stroke="#00e400" stroke-width="3.5" fill="none">
<line x1="895" y1="490" x2="950" y2="490" stroke-dasharray="0.1 12.5" stroke-linecap="round"/>
<line x1="893" y1="522" x2="950" y2="522" stroke-dasharray="14 16"/>
<line x1="893" y1="554" x2="950" y2="554"/>
</g>
</svg>
</body></html>
